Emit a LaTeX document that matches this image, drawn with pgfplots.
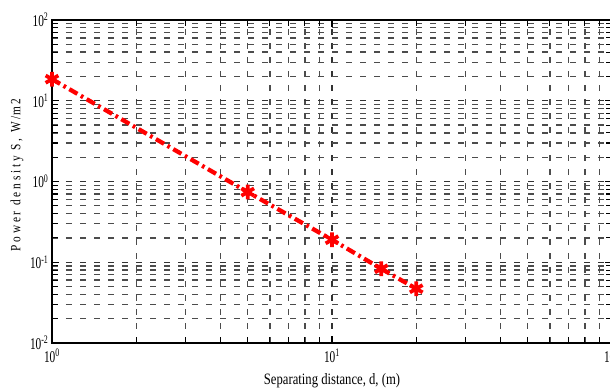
\documentclass[border=0pt]{standalone}
\usepackage{pgfplots}
\pgfplotsset{compat=1.18}
\usepackage{fontspec}
\setmainfont{Liberation Serif}
\newcommand{\tl}[1]{\scalebox{1}[1.45]{\fontsize{8.5}{10}\selectfont 10\textsuperscript{#1}}}
\begin{document}
\begin{tikzpicture}[x=1pt,y=1pt]
\path[use as bounding box] (-39,-36) rectangle (418.5,257.25);
\begin{axis}[at={(0,0)}, anchor=south west, scale only axis,
  width=420pt, height=242.25pt,
  xmode=log, ymode=log, xmin=1, xmax=100, ymin=0.01, ymax=100,
  clip=false,
  xtick={1,10,100}, xticklabels={\tl{0},\tl{1},\tl{2}},
  ytick={0.01,0.1,1,10,100}, yticklabels={\tl{-2},\tl{-1},\tl{0},\tl{1},\tl{2}},
  minor xtick={2,3,4,5,6,7,8,9,20,30,40,50,60,70,80,90},
  minor ytick={0.02,0.03,0.04,0.05,0.06,0.07,0.08,0.09,0.2,0.3,0.4,0.5,0.6,0.7,0.8,0.9,2,3,4,5,6,7,8,9,20,30,40,50,60,70,80,90},
  grid=both,
  major grid style={black!80, line width=1pt, dash pattern=on 4.5pt off 6pt},
  minor grid style={black!70, line width=1pt, dash pattern=on 4.5pt off 6pt},
  axis line style={black, line width=1.4pt},
  tick style={black, line width=0.8pt},
  tick align=inside, major tick length=5pt, minor tick length=4.5pt,
  xticklabel style={yshift=-1pt},
  yticklabel style={xshift=1pt},
  xlabel={\scalebox{1}[1.25]{\fontsize{9.5}{11}\selectfont Separating distance, d, (m)}},
  ylabel={\scalebox{1}[1.25]{\fontsize{8.5}{10}\selectfont P o w e r \ d e n s i t y \ S , \ W /m 2}},
  xlabel style={at={(axis description cs:0.5,0)}, anchor=center, yshift=-28.5pt},
  ylabel style={at={(axis description cs:-0.0625,0.52)}, anchor=center},
]
\addplot[red, line width=3.2pt, dash pattern=on 7pt off 3pt on 2pt off 3pt,
  mark=asterisk, mark size=5.5pt, mark options={solid, line width=2.8pt}]
  coordinates {(1,18.5)(5,0.74)(10,0.19)(15,0.083)(20,0.047)};
\end{axis}
\end{tikzpicture}
\end{document}
